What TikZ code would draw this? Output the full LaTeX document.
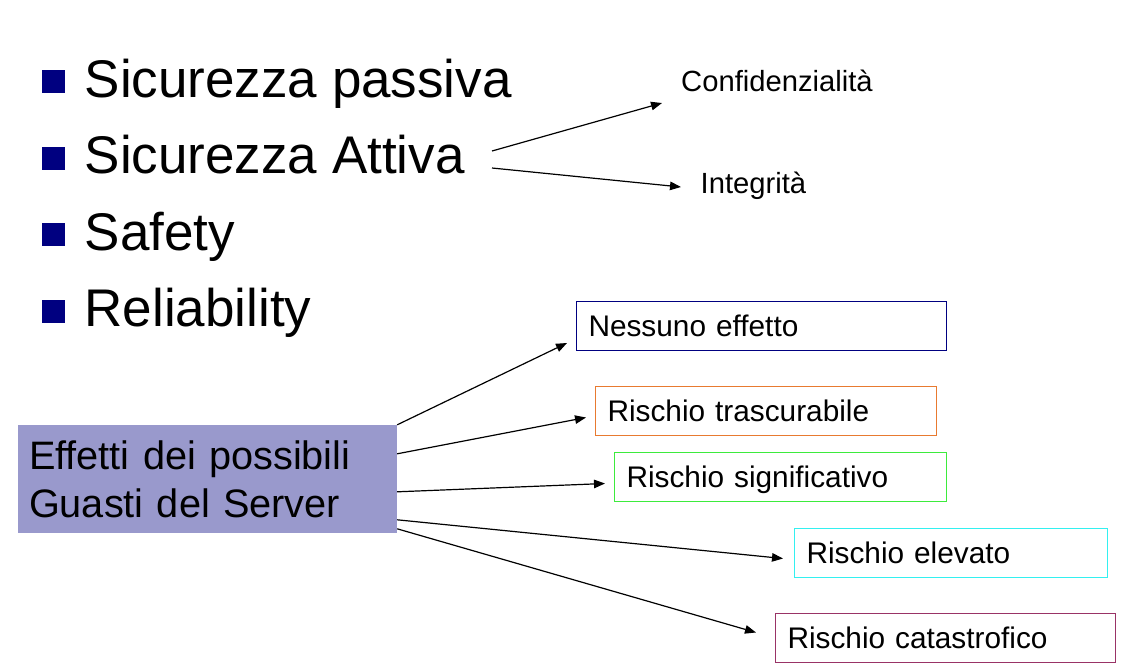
\documentclass[tikz,border=0pt]{standalone}
\usepackage{fontspec}
\setmainfont{Liberation Sans}
\usetikzlibrary{arrows.meta,calc}
\definecolor{navyc}{HTML}{000080}
\definecolor{purplec}{HTML}{9999CC}
\definecolor{orangec}{HTML}{E87A30}
\definecolor{greenc}{HTML}{3DEB3D}
\definecolor{cyanc}{HTML}{33F0F0}
\definecolor{maroonc}{HTML}{993366}
\tikzset{
  bul/.style={fill=navyc, minimum size=23pt, inner sep=0pt, draw=none},
  bigtxt/.style={anchor=base west, inner sep=0pt, font=\fontsize{53}{64}\selectfont},
  smalltxt/.style={anchor=base west, inner sep=0pt, font=\fontsize{29.2}{35}\selectfont},
  effbox/.style={fill=purplec, minimum width=379pt, minimum height=108pt, inner xsep=11pt, inner ysep=0pt,
    text width=357pt, align=left, font=\fontsize{39.7}{48}\selectfont},
  riskbox/.style={draw=#1, line width=1pt, anchor=north west, minimum height=49pt, inner xsep=12pt, inner ysep=0pt,
    align=left, text height=26pt, text depth=6pt, font=\fontsize{29.8}{35}\selectfont},
  arr/.style={line width=1.2pt, -{Triangle[length=11pt,width=8.5pt]}}
}
\begin{document}
\begin{tikzpicture}[x=1pt,y=-1pt]
\useasboundingbox[fill=white] (0,0) rectangle (1121,665);
% bullets
\node[bul] (q1) at (53.5,81.5) {};
\node[bul] (q2) at (53.5,158) {};
\node[bul] (q3) at (53.5,234.5) {};
\node[bul] (q4) at (53.5,311) {};
\node[bigtxt] (t1) at (84.5,97) {Sicurezza passiva};
\node[bigtxt] (t2) at (84.5,173.5) {Sicurezza Attiva};
\node[bigtxt] (t3) at (84.5,250) {Safety};
\node[bigtxt] (t4) at (84.5,326) {Reliability};
% security branches
\node[smalltxt] (conf) at (681,91.5) {Confidenzialità};
\node[smalltxt] (integ) at (700.5,193) {Integrità};
\coordinate (sa1) at (492,151);
\coordinate (sa2) at (492,168);
\coordinate (ca) at ($(conf.base west)+(-19,11.5)$);
\coordinate (ia) at ($(integ.base west)+(-19.5,-6)$);
\draw[arr] (sa1) -- (ca);
\draw[arr] (sa2) -- (ia);
% effects box
\node[effbox] (eff) at (207.5,479) {Effetti dei possibili\\Guasti del Server};
% risk boxes
\node[riskbox=navyc, minimum width=370pt, text width=346pt] (nes) at (576,301) {Nessuno effetto};
\node[riskbox=orangec, minimum width=341pt, text width=317pt] (tra) at (595,386) {Rischio trascurabile};
\node[riskbox=greenc, minimum width=332pt, text width=308pt] (sig) at (614,452) {Rischio significativo};
\node[riskbox=cyanc, minimum width=313pt, text width=289pt] (ele) at (794,528) {Rischio elevato};
\node[riskbox=maroonc, minimum width=340pt, text width=316pt] (cat) at (775,613) {Rischio catastrofico};
% connectors
\coordinate (e1) at (eff.north east);
\coordinate (e2) at ($(eff.north east)+(0,29)$);
\coordinate (e3) at ($(eff.north east)+(0,67)$);
\coordinate (e4) at ($(eff.north east)+(0,95)$);
\coordinate (e5) at ($(eff.north east)+(0,104)$);
\coordinate (n1) at ($(nes.south west)+(-9,-8)$);
\coordinate (n2) at ($(tra.west)+(-9,6.5)$);
\coordinate (n3) at ($(sig.west)+(-9,6.5)$);
\coordinate (n4) at ($(ele.west)+(-11,5.5)$);
\coordinate (n5) at ($(cat.west)+(-19,-5.5)$);
\draw[arr] (e1) -- (n1);
\draw[arr] (e2) -- (n2);
\draw[arr] (e3) -- (n3);
\draw[arr] (e4) -- (n4);
\draw[arr] (e5) -- (n5);
\end{tikzpicture}
\end{document}
